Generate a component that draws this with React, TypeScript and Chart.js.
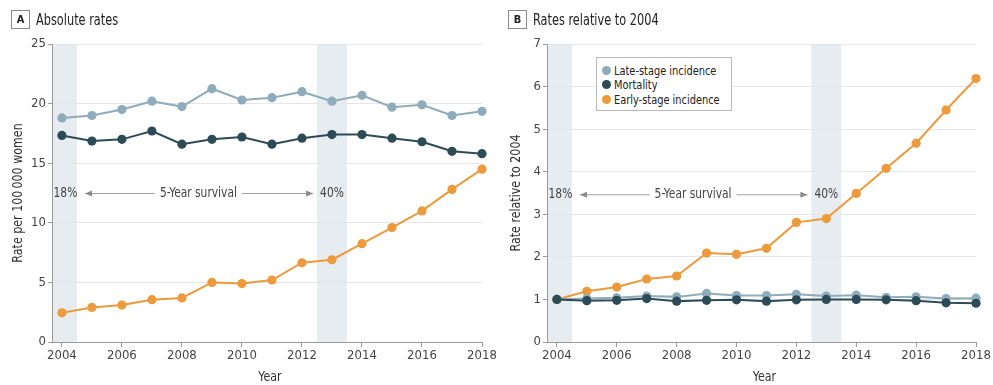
import React, { useEffect, useRef } from "react";
import { Chart, registerables } from "chart.js";

Chart.register(...registerables);

// ---- data ----
const years = [2004, 2005, 2006, 2007, 2008, 2009, 2010, 2011, 2012, 2013, 2014, 2015, 2016, 2017, 2018];

// Panel A: rate per 100 000 women
const lateAbs = [18.8, 19.0, 19.5, 20.2, 19.75, 21.25, 20.3, 20.5, 21.0, 20.2, 20.7, 19.7, 19.9, 19.0, 19.35];
const mortAbs = [17.33, 16.86, 17.0, 17.7, 16.6, 17.0, 17.2, 16.6, 17.1, 17.4, 17.4, 17.1, 16.8, 16.0, 15.8];
const earlyAbs = [2.45, 2.9, 3.1, 3.55, 3.7, 5.0, 4.9, 5.2, 6.65, 6.9, 8.25, 9.6, 11.0, 12.8, 14.5];

// Panel B: rate relative to 2004
const lateRel = [1.0, 1.02, 1.04, 1.08, 1.06, 1.14, 1.09, 1.09, 1.12, 1.08, 1.1, 1.05, 1.06, 1.02, 1.03];
const mortRel = [1.0, 0.97, 0.98, 1.02, 0.96, 0.98, 0.99, 0.96, 0.99, 1.0, 1.0, 0.99, 0.97, 0.92, 0.91];
const earlyRel = [1.0, 1.19, 1.29, 1.48, 1.55, 2.09, 2.06, 2.2, 2.81, 2.9, 3.49, 4.08, 4.67, 5.45, 6.19];

const xTicks = [2004, 2006, 2008, 2010, 2012, 2014, 2016, 2018];
const yTicksA = [0, 5, 10, 15, 20, 25];
const yTicksB = [0, 1, 2, 3, 4, 5, 6, 7];

const seriesNames = ["Late-stage incidence", "Mortality", "Early-stage incidence"];
const seriesColors = ["#8eacbb", "#2c4b57", "#ec9a3c"];

// shaded survival years (band spans ±0.5 year)
const bandYears = [2004, 2013];
const survivalLabels = ["18%", "5-Year survival", "40%"];

// ---- styling ----
const FONT = '"Liberation Sans Narrow", "DejaVu Sans Condensed", "Roboto Condensed", Roboto, "Liberation Sans", sans-serif';
const BAND = "#e7ecf0";
const AXIS = "#9a9a9a";
const GRID = "#e6e6e6";
const TEXT = "#444";
const SQUEEZE = 0.88; // narrow lettering for titles and notes

Chart.defaults.font.family = FONT;

type PanelOpts = {
  values: number[][];
  yMax: number;
  yTicks: number[];
  yTitle: string;
  yTitleOffset: number;
  annotY: number;
  canvasWidth: number;
  rightPad: number;
};

function narrowText(ctx: CanvasRenderingContext2D, text: string, x: number, y: number, sx = SQUEEZE) {
  ctx.save();
  ctx.translate(x, y);
  ctx.scale(sx, 1);
  ctx.fillText(text, 0, 0);
  ctx.restore();
}

const decorPlugin = {
  id: "panelDecor",
  beforeDraw(chart: any) {
    const { ctx, chartArea } = chart;
    const xs = chart.scales.x;
    ctx.save();
    ctx.fillStyle = BAND;
    for (const yr of bandYears) {
      const x0 = Math.max(chartArea.left, xs.getPixelForValue(yr - 0.5));
      const x1 = Math.min(chartArea.right, xs.getPixelForValue(yr + 0.5));
      ctx.fillRect(x0, chartArea.top, x1 - x0, chartArea.bottom - chartArea.top);
    }
    ctx.restore();
  },
  beforeDatasetsDraw(chart: any, _args: any, opts: any) {
    const { ctx, chartArea } = chart;
    const xs = chart.scales.x;
    const ys = chart.scales.y;
    const y = ys.getPixelForValue(opts.annotY);
    ctx.save();
    ctx.font = `13.5px ${FONT}`;
    ctx.fillStyle = TEXT;
    ctx.textBaseline = "middle";
    ctx.textAlign = "center";
    const leftBandMid = (chartArea.left + xs.getPixelForValue(2004.5)) / 2 + 1;
    narrowText(ctx, survivalLabels[0], leftBandMid, y);
    narrowText(ctx, survivalLabels[1], xs.getPixelForValue(2008.55), y);
    narrowText(ctx, survivalLabels[2], xs.getPixelForValue(2013), y);

    const arrow = (from: number, to: number) => {
      ctx.strokeStyle = "#a0a0a0";
      ctx.lineWidth = 1;
      ctx.beginPath();
      ctx.moveTo(from, y + 0.5);
      ctx.lineTo(to, y + 0.5);
      ctx.stroke();
      const dir = to > from ? 1 : -1;
      ctx.fillStyle = "#8a8a8a";
      ctx.beginPath();
      ctx.moveTo(to, y + 0.5);
      ctx.lineTo(to - dir * 7, y - 2.5);
      ctx.lineTo(to - dir * 7, y + 3.5);
      ctx.closePath();
      ctx.fill();
    };
    arrow(xs.getPixelForValue(2007.1), xs.getPixelForValue(2004.77));
    arrow(xs.getPixelForValue(2010.0), xs.getPixelForValue(2012.37));
    ctx.restore();
  },
  afterDraw(chart: any, _args: any, opts: any) {
    const { ctx, chartArea } = chart;
    ctx.save();
    ctx.fillStyle = "#333";
    ctx.font = `14px ${FONT}`;
    ctx.textAlign = "center";
    ctx.textBaseline = "middle";
    narrowText(ctx, "Year", (chartArea.left + chartArea.right) / 2 + 3, 377);
    ctx.translate(chartArea.left - opts.yTitleOffset, (chartArea.top + chartArea.bottom) / 2);
    ctx.rotate(-Math.PI / 2);
    narrowText(ctx, opts.yTitle, 0, 0);
    ctx.restore();
  },
};

function makeConfig(o: PanelOpts): any {
  const order = [1, 0, 2];
  return {
    type: "line",
    data: {
      datasets: o.values.map((vals, i) => ({
        label: seriesNames[i],
        data: years.map((yr, j) => ({ x: yr, y: vals[j] })),
        borderColor: seriesColors[i],
        backgroundColor: seriesColors[i],
        pointBackgroundColor: seriesColors[i],
        pointBorderColor: seriesColors[i],
        pointBorderWidth: 0,
        pointRadius: 4.6,
        borderWidth: 2,
        tension: 0,
        order: order[i],
        clip: false,
      })),
    },
    options: {
      animation: false,
      responsive: false,
      devicePixelRatio: 1,
      events: [],
      layout: { padding: { top: 44, right: o.rightPad, left: 0, bottom: 0 } },
      plugins: {
        legend: { display: false },
        tooltip: { enabled: false },
        panelDecor: { annotY: o.annotY, yTitle: o.yTitle, yTitleOffset: o.yTitleOffset },
      },
      scales: {
        x: {
          type: "linear",
          min: 2003.67,
          max: 2018,
          afterBuildTicks: (s: any) => {
            s.ticks = xTicks.map((v) => ({ value: v }));
          },
          afterFit: (s: any) => {
            s.height = 43;
            s.paddingLeft = 0;
            s.paddingRight = 0;
          },
          ticks: {
            callback: (v: any) => String(v),
            color: TEXT,
            font: { size: 13 },
            padding: 1,
            maxRotation: 0,
            autoSkip: false,
          },
          grid: { drawOnChartArea: false, drawTicks: true, tickLength: 5, color: AXIS },
          border: { color: AXIS, width: 1 },
        },
        y: {
          type: "linear",
          min: 0,
          max: o.yMax,
          afterBuildTicks: (s: any) => {
            s.ticks = o.yTicks.map((v) => ({ value: v }));
          },
          afterFit: (s: any) => {
            s.width = 52;
            s.paddingTop = 0;
            s.paddingBottom = 0;
          },
          ticks: { color: TEXT, font: { size: 13 }, padding: 2 },
          grid: { color: GRID, tickColor: AXIS, tickLength: 4, lineWidth: 1 },
          border: { color: AXIS, width: 1 },
        },
      },
    },
    plugins: [decorPlugin],
  };
}

function Panel(props: { left: number; opts: PanelOpts }) {
  const ref = useRef<HTMLCanvasElement | null>(null);
  useEffect(() => {
    if (!ref.current) return;
    const chart = new Chart(ref.current, makeConfig(props.opts));
    return () => chart.destroy();
  }, []);
  return (
    <canvas
      ref={ref}
      width={props.opts.canvasWidth}
      height={385}
      style={{ position: "absolute", left: props.left, top: 0, width: props.opts.canvasWidth, height: 385 }}
    />
  );
}

const narrowSpan: React.CSSProperties = {
  display: "inline-block",
  whiteSpace: "nowrap",
  transform: `scaleX(${SQUEEZE - 0.04})`,
  transformOrigin: "left center",
};

function PanelHeader(props: { left: number; letter: string; title: string }) {
  return (
    <div style={{ position: "absolute", left: props.left, top: 10, display: "flex", alignItems: "center", fontFamily: FONT }}>
      <div
        style={{
          width: 17,
          height: 17,
          border: "1px solid #8a8a8a",
          fontSize: 11,
          fontWeight: 700,
          color: "#222",
          display: "flex",
          alignItems: "center",
          justifyContent: "center",
          boxSizing: "content-box",
        }}
      >
        {props.letter}
      </div>
      <div style={{ marginLeft: 6, fontSize: 15, color: "#222", whiteSpace: "nowrap" }}>
        <span style={narrowSpan}>{props.title}</span>
      </div>
    </div>
  );
}

function Legend() {
  return (
    <div
      style={{
        position: "absolute",
        left: 596,
        top: 57,
        width: 136,
        height: 54,
        border: "1px solid #b8b8b8",
        background: "#fff",
        fontFamily: FONT,
        fontSize: 13,
        color: "#222",
        paddingTop: 5,
        boxSizing: "border-box",
      }}
    >
      {seriesNames.map((n, i) => (
        <div key={n} style={{ display: "flex", alignItems: "center", height: 14.5, paddingLeft: 5, whiteSpace: "nowrap" }}>
          <span
            style={{ display: "inline-block", width: 9, height: 9, borderRadius: "50%", background: seriesColors[i], marginRight: 3, flex: "none" }}
          />
          <span style={narrowSpan}>{n}</span>
        </div>
      ))}
    </div>
  );
}

export default function App() {
  return (
    <div style={{ position: "absolute", left: 0, top: 0, width: 993, height: 385, background: "#fff", overflow: "hidden" }}>
      <Panel
        left={0}
        opts={{
          values: [lateAbs, mortAbs, earlyAbs],
          yMax: 25,
          yTicks: yTicksA,
          yTitle: "Rate per 100\u2009000 women",
          yTitleOffset: 34,
          annotY: 12.5,
          canvasWidth: 505,
          rightPad: 23,
        }}
      />
      <Panel
        left={495}
        opts={{
          values: [lateRel, mortRel, earlyRel],
          yMax: 7,
          yTicks: yTicksB,
          yTitle: "Rate relative to 2004",
          yTitleOffset: 31,
          annotY: 3.47,
          canvasWidth: 498,
          rightPad: 17,
        }}
      />
      <PanelHeader left={11} letter="A" title="Absolute rates" />
      <PanelHeader left={508} letter="B" title="Rates relative to 2004" />
      <Legend />
    </div>
  );
}
